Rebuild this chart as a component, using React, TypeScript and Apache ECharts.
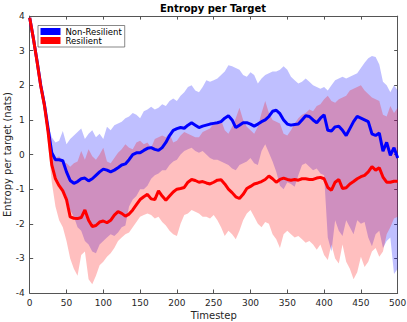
import React, { useEffect, useRef } from "react";
import * as echarts from "echarts";

const timesteps = [
  0, 5, 10, 15, 20, 25, 30, 35, 40, 45, 50, 55, 60, 65, 70, 75, 80, 85, 90, 95,
  100, 105, 110, 115, 120, 125, 130, 135, 140, 145, 150, 155, 160, 165, 170, 175, 180, 185, 190, 195,
  200, 205, 210, 215, 220, 225, 230, 235, 240, 245, 250, 255, 260, 265, 270, 275, 280, 285, 290, 295,
  300, 305, 310, 315, 320, 325, 330, 335, 340, 345, 350, 355, 360, 365, 370, 375, 380, 385, 390, 395,
  400, 405, 410, 415, 420, 425, 430, 435, 440, 445, 450, 455, 460, 465, 470, 475, 480, 485, 490, 495, 500,
];

const xTicks = [0, 50, 100, 150, 200, 250, 300, 350, 400, 450, 500];
const yTicks = [-4, -3, -2, -1, 0, 1, 2, 3, 4];

const nonResilientMean = [
  3.95, 3.35, 2.7, 2.0, 1.45, 0.75, 0.05, -0.15, -0.15, -0.18,
  -0.5, -0.75, -0.83, -0.78, -0.7, -0.68, -0.76, -0.7, -0.6, -0.5,
  -0.42, -0.45, -0.5, -0.45, -0.38, -0.3, -0.27, -0.15, 0.0, 0.05,
  0.05, 0.12, 0.18, 0.2, 0.15, 0.12, 0.2, 0.35, 0.55, 0.7,
  0.75, 0.78, 0.76, 0.85, 0.92, 0.85, 0.78, 0.82, 0.85, 0.88,
  0.9, 0.92, 0.95, 1.05, 1.12, 1.0, 0.78, 0.85, 0.92, 0.92,
  0.88, 0.82, 0.88, 0.95, 1.0, 1.1, 1.25, 1.28, 1.18, 1.0,
  0.88, 0.85, 0.87, 0.88, 1.0, 1.12, 1.1, 1.0, 0.92, 1.05,
  1.15, 0.7, 0.68, 0.8, 0.82, 0.7, 0.55, 0.75, 0.95, 1.1,
  1.05, 1.0, 0.95, 0.6, 0.55, 0.62, 0.1, 0.35, -0.02, 0.2, -0.1,
];

const resilientMean = [
  3.95, 3.35, 2.68, 1.98, 1.42, 0.65, -0.3, -0.7, -0.9, -1.05,
  -1.3, -1.8, -1.84, -1.85, -1.82, -1.6, -1.9, -2.08, -2.05, -1.95,
  -1.92, -1.97, -1.9, -1.75, -1.65, -1.7, -1.78, -1.72, -1.6, -1.45,
  -1.3, -1.22, -1.15, -1.28, -1.3, -1.05, -1.2, -1.32, -1.2, -1.08,
  -1.0, -0.98, -0.95, -0.8, -0.72, -0.75, -0.8, -0.78, -0.82, -0.85,
  -0.8, -0.74, -0.73, -0.85, -1.0, -1.1, -1.22, -1.27, -1.15, -0.98,
  -0.92, -0.85, -0.82, -0.78, -0.72, -0.62, -0.7, -0.8, -0.72, -0.68,
  -0.72, -0.74, -0.72, -0.74, -0.7, -0.7, -0.72, -0.72, -0.68, -0.66,
  -0.7, -0.95, -1.03, -0.8, -0.72, -0.98, -0.96, -0.85, -0.78, -0.7,
  -0.64, -0.6, -0.5, -0.35, -0.45, -0.38, -0.65, -0.8, -0.8, -0.77, -0.77,
];

const nonResilientUpper = [
  3.95, 3.4, 2.72, 2.05, 1.5, 0.85, 0.5, 0.35, 0.4, 0.68,
  0.3, 0.45, 0.55, 0.65, 0.75, 0.45, 0.6, 0.7, 0.5, 0.6,
  0.45, 0.8, 0.7, 0.85, 0.9, 0.95, 1.05, 1.1, 1.2, 1.15,
  1.05, 1.25, 1.3, 1.38, 1.3, 1.35, 1.45, 1.4, 1.55, 1.62,
  1.55, 1.7, 1.8, 1.95, 2.0, 1.85, 1.8, 1.95, 2.15, 2.1,
  2.15, 2.2, 2.3, 2.4, 2.58, 2.55, 2.5, 2.45, 2.3, 2.25,
  2.38, 2.3, 2.05, 2.2, 2.3, 2.35, 2.4, 2.4, 2.45, 2.55,
  2.45, 2.25, 2.15, 2.05, 2.1, 2.2, 2.1, 2.0, 1.95, 1.9,
  1.95, 1.85, 2.0, 2.15, 2.2, 2.25, 2.2, 2.25, 2.3, 2.35,
  2.5, 2.65, 2.78, 2.85, 2.82, 2.6, 2.1, 2.0, 1.8, 2.0, 1.85,
];

const nonResilientLower = [
  3.95, 3.35, 2.65, 1.95, 1.3, 0.5, -0.3, -0.6, -0.8, -1.0,
  -1.2, -1.6, -1.8, -2.1, -2.2, -2.5, -2.6, -2.8, -2.85, -2.6,
  -2.5, -2.4, -2.3, -2.35, -2.25, -2.1, -2.05, -1.5, -1.3, -1.2,
  -1.0, -1.0, -0.9, -0.7, -0.6, -0.55, -0.45, -0.45, -0.3, -0.2,
  -0.15, 0.0, 0.1, 0.15, 0.2, 0.1, 0.05, 0.1, 0.0, -0.1,
  -0.15, -0.15, -0.2, -0.25, -0.3, -0.4, -0.45, -0.3, -0.25, -0.2,
  -0.1, -0.25, -0.3, 0.1, 0.3, 0.05, -0.2, -0.5, -0.9, -1.0,
  -0.8, -0.85, -0.93, -0.6, -0.3, -0.25, -0.35, -0.45, -0.4, -0.55,
  -0.6, -2.4, -2.8, -1.9, -2.2, -2.35, -1.9, -2.1, -2.3, -1.9,
  -2.0, -1.95, -2.4, -2.65, -2.3, -2.2, -2.7, -2.5, -2.4, -3.45, -3.3,
];

const resilientUpper = [
  3.95, 3.4, 2.7, 2.0, 1.45, 0.75, 0.1, -0.1, -0.05, -0.2,
  -0.25, -0.35, -0.25, -0.2, 0.1, -0.15, 0.15, -0.05, -0.15, 0.0,
  0.2, -0.2, -0.25, -0.1, 0.05, 0.15, 0.3, 0.2, 0.15, 0.35,
  0.4, 0.3, 0.35, 0.2, 0.45, 0.5, 0.55, 0.5, 0.6, 0.35,
  0.4, 0.55, 0.65, 0.6, 0.55, 0.5, 0.5, 0.65, 0.7, 0.75,
  0.9, 0.95, 1.0, 0.7, 0.6, 0.8, 1.05, 1.35, 1.0, 0.8,
  0.7, 0.6, 0.8, 1.2, 1.55, 1.2, 1.0, 0.95, 0.9, 0.6,
  0.55, 0.7, 0.9, 1.05, 1.15, 1.2, 1.3, 1.25, 1.4, 1.45,
  1.6, 1.7, 1.55, 1.5, 1.6, 1.65, 1.7, 1.85, 1.9, 1.95,
  2.0, 1.85, 1.75, 1.65, 1.6, 1.55, 1.15, 1.1, 1.4, 1.2, 1.35,
];

const resilientLower = [
  3.95, 3.35, 2.65, 1.95, 1.35, 0.3, -0.8, -1.5, -1.9, -2.1,
  -2.5, -3.0, -3.3, -3.5, -2.9, -2.8, -3.6, -3.75, -3.5, -3.2,
  -3.1, -2.95, -2.85, -2.7, -2.5, -2.4, -2.3, -2.25, -2.1, -1.95,
  -1.8, -1.75, -1.7, -1.75, -1.85, -1.8, -1.95, -2.05, -2.2, -2.3,
  -2.35, -2.0, -1.75, -1.7, -1.6, -1.65, -1.7, -1.8, -1.8, -1.85,
  -1.75, -1.9, -2.1, -2.35, -2.2, -2.3, -2.45, -2.2, -1.9, -1.7,
  -1.6, -1.8, -2.0, -2.1, -1.95, -2.0, -2.3, -2.45, -2.7, -2.3,
  -2.2, -2.3, -2.4, -2.35, -2.45, -2.55, -2.5, -2.6, -2.75, -2.6,
  -2.9, -3.05, -2.6, -3.0, -3.15, -2.6, -3.1, -3.3, -3.6, -3.4,
  -2.95, -3.25, -3.1, -2.8, -2.7, -2.95, -2.8, -2.3, -2.1, -1.85, -1.8,
];

const FONT = "DejaVu Sans";
const AXIS_COLOR = "#555555";
const TEXT_COLOR = "#262626";

export default function App() {
  const ref = useRef<HTMLDivElement>(null);

  useEffect(() => {
    document.body.style.margin = "0";
    const chart = echarts.init(ref.current!, undefined, { renderer: "svg" });

    const band = (name: string, upper: number[], lower: number[], fill: string, z: number) => ({
      type: "custom",
      name,
      silent: true,
      z,
      data: [[timesteps[0], upper[0]]],
      renderItem: (_params: any, api: any) => {
        const pts: number[][] = [];
        for (let i = 0; i < timesteps.length; i++) pts.push(api.coord([timesteps[i], upper[i]]));
        for (let i = timesteps.length - 1; i >= 0; i--) pts.push(api.coord([timesteps[i], lower[i]]));
        return { type: "polygon", shape: { points: pts }, style: { fill } };
      },
    });

    const tickStyle = { show: true, inside: true, length: 3.5, lineStyle: { color: AXIS_COLOR, width: 1 } };
    const lineStyle = { show: true, onZero: false, lineStyle: { color: AXIS_COLOR, width: 1 } };

    chart.setOption({
      animation: false,
      grid: {
        left: 29.7,
        right: 9.3,
        top: 16.1,
        bottom: 29,
        containLabel: false,
        outerBoundsMode: "none",
      },
      graphic: [
        {
          type: "text",
          x: 213,
          y: 8,
          style: {
            text: "Entropy per Target",
            font: `bold 10px "${FONT}"`,
            fill: "#000",
            textAlign: "center",
            textVerticalAlign: "middle",
            align: "center",
            verticalAlign: "middle",
          },
        },
      ],
      legend: {
        data: ["Non-Resilient", "Resilient"],
        orient: "vertical",
        left: 38,
        top: 25.5,
        icon: "rect",
        itemWidth: 20,
        itemHeight: 7,
        itemGap: 0,
        padding: [1.5, 3, 2, 2.5],
        backgroundColor: "#ffffff",
        borderColor: "#555555",
        borderWidth: 0.7,
        selectedMode: false,
        lineStyle: { width: 0, opacity: 0 },
        itemStyle: { borderWidth: 0 },
        textStyle: { fontSize: 8.5, color: "#000", fontFamily: FONT },
      },
      xAxis: [
        {
          type: "value",
          position: "bottom",
          min: xTicks[0],
          max: xTicks[xTicks.length - 1],
          interval: 50,
          name: "Timestep",
          nameLocation: "middle",
          nameGap: 17,
          nameMoveOverlap: false,
          nameTextStyle: { fontSize: 10, color: TEXT_COLOR, fontFamily: FONT },
          axisLine: lineStyle,
          axisTick: tickStyle,
          axisLabel: { fontSize: 9, color: TEXT_COLOR, margin: 5, fontFamily: FONT },
          splitLine: { show: false },
        },
        {
          type: "value",
          position: "top",
          min: xTicks[0],
          max: xTicks[xTicks.length - 1],
          interval: 50,
          axisLine: lineStyle,
          axisTick: tickStyle,
          axisLabel: { show: false },
          splitLine: { show: false },
        },
      ],
      yAxis: [
        {
          type: "value",
          position: "left",
          min: yTicks[0],
          max: yTicks[yTicks.length - 1],
          interval: 1,
          name: "Entropy per target (nats)",
          nameLocation: "middle",
          nameGap: 17,
          nameMoveOverlap: false,
          nameTextStyle: { fontSize: 10, color: TEXT_COLOR, fontFamily: FONT },
          axisLine: lineStyle,
          axisTick: tickStyle,
          axisLabel: { fontSize: 9, color: TEXT_COLOR, margin: 5, fontFamily: FONT },
          splitLine: { show: false },
        },
        {
          type: "value",
          position: "right",
          min: yTicks[0],
          max: yTicks[yTicks.length - 1],
          interval: 1,
          axisLine: lineStyle,
          axisTick: tickStyle,
          axisLabel: { show: false },
          splitLine: { show: false },
        },
      ],
      series: [
        band("nrBand", nonResilientUpper, nonResilientLower, "rgba(0,0,255,0.25)", 1),
        band("rBand", resilientUpper, resilientLower, "rgba(255,0,0,0.25)", 2),
        {
          type: "line",
          name: "Non-Resilient",
          data: timesteps.map((t, i) => [t, nonResilientMean[i]]),
          showSymbol: false,
          symbol: "none",
          lineStyle: { width: 3, color: "#0000ff" },
          itemStyle: { color: "#0000ff" },
          z: 3,
        },
        {
          type: "line",
          name: "Resilient",
          data: timesteps.map((t, i) => [t, resilientMean[i]]),
          showSymbol: false,
          symbol: "none",
          lineStyle: { width: 3, color: "#ff0000" },
          itemStyle: { color: "#ff0000" },
          z: 4,
        },
      ],
    });

    return () => chart.dispose();
  }, []);

  return <div ref={ref} style={{ width: 407, height: 322 }} />;
}
